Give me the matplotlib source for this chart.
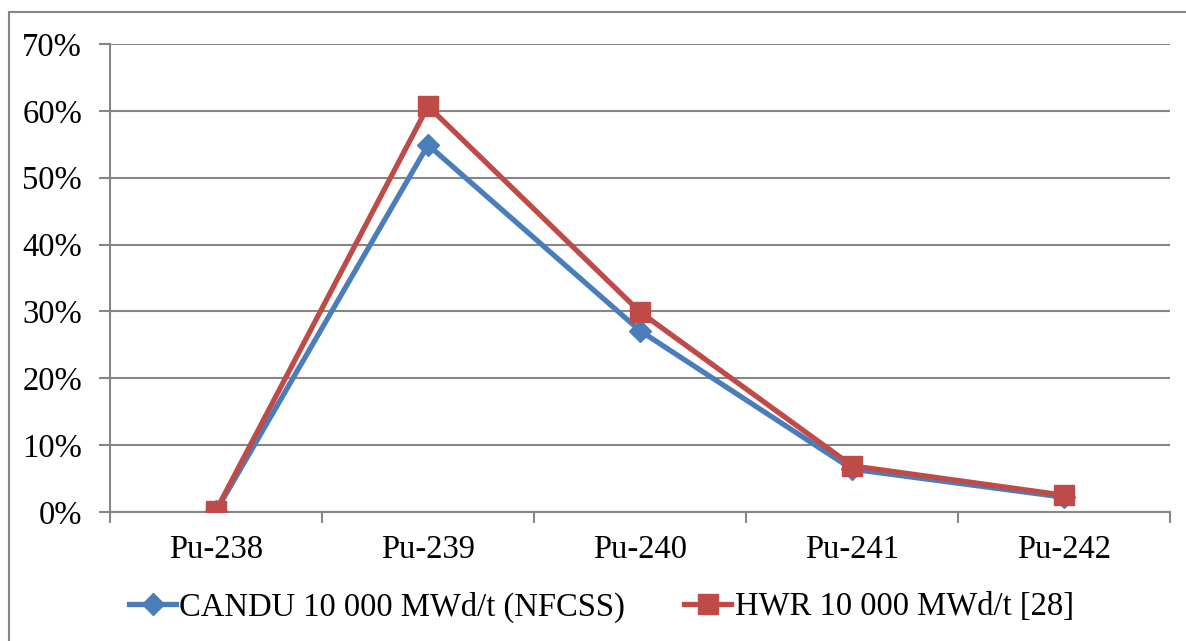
import matplotlib.pyplot as plt
from matplotlib.patches import Rectangle
from matplotlib.ticker import FuncFormatter, FixedLocator

isotopes = ["Pu-238", "Pu-239", "Pu-240", "Pu-241", "Pu-242"]
candu = [0.001, 0.549, 0.271, 0.064, 0.022]
hwr = [0.002, 0.607, 0.299, 0.069, 0.025]

plt.rcParams['font.family'] = ['Liberation Serif', 'DejaVu Serif']
grey = "#868686"

fig = plt.figure(figsize=(11.86, 6.41), dpi=100)
ax = fig.add_axes([0.0927, 0.2013, 0.894, 0.7301])

x = range(len(isotopes))
ax.plot(x, candu, color="#4A7EBB", lw=3.8, marker="D", ms=11,
        label="CANDU 10 000 MWd/t (NFCSS)", zorder=3)
ax.plot(x, hwr, color="#BE4B48", lw=3.8, marker="s", ms=14,
        label="HWR 10 000 MWd/t [28]", zorder=4)

ax.set_xlim(-0.5, len(isotopes) - 0.5)
ax.set_ylim(0, 0.7)
ax.set_yticks([i / 10 for i in range(8)])
ax.yaxis.set_major_formatter(FuncFormatter(lambda v, p: f"{v * 100:.0f}%"))
ax.set_xticks(list(x))
ax.set_xticklabels(isotopes)
ax.xaxis.set_minor_locator(FixedLocator([i - 0.5 for i in range(len(isotopes) + 1)]))

ax.tick_params(axis="x", which="major", length=0, pad=16, labelsize=23.5)
ax.tick_params(axis="x", which="minor", length=8, color=grey, width=1.5)
ax.tick_params(axis="y", length=8, color=grey, width=1.5, pad=12, labelsize=23.5)

ax.grid(axis="y", color=grey, lw=1.5)
ax.set_axisbelow(True)
for s in ["top", "right"]:
    ax.spines[s].set_visible(False)
for s in ["left", "bottom"]:
    ax.spines[s].set_color(grey)
    ax.spines[s].set_linewidth(1.5)

leg = fig.legend(loc="center", bbox_to_anchor=(0.507, 0.053), ncol=2, frameon=False,
                 fontsize=23.5, handlelength=1.45, handletextpad=0.1,
                 columnspacing=1.8)

# chart frame
fig.add_artist(Rectangle((9 / 1186, -0.05), 1.2, 1 - 12 / 641 + 0.05,
                         transform=fig.transFigure, fill=False,
                         edgecolor=grey, lw=1.5, clip_on=False))

fig.savefig("out.png", dpi=100)
